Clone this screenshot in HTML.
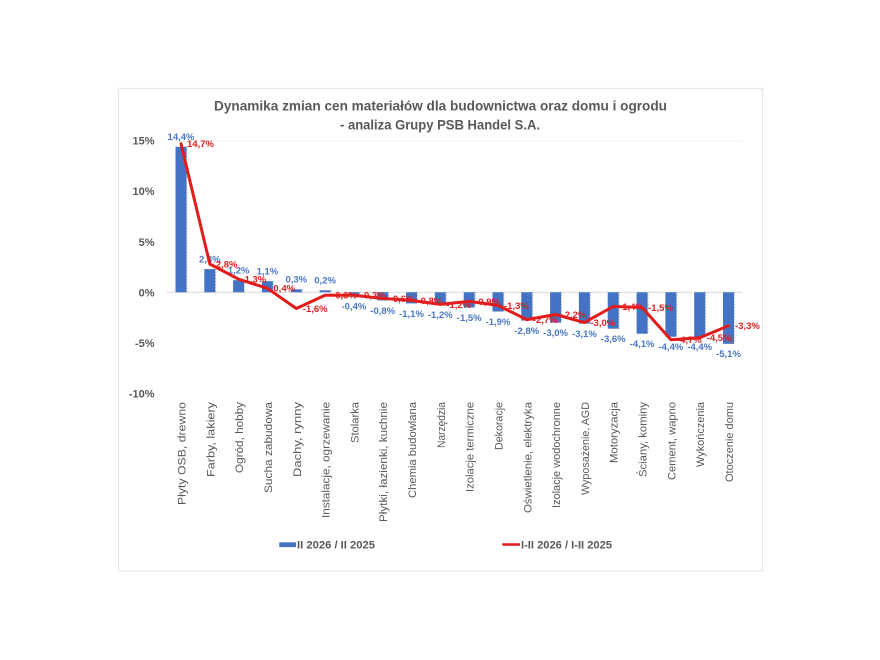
<!DOCTYPE html>
<html><head><meta charset="utf-8"><style>
html,body{margin:0;padding:0;background:#fff;}
svg{display:block;}
text{font-family:"Liberation Sans",Arial,sans-serif;}
</style></head><body>
<svg width="880" height="660" viewBox="0 0 880 660" xmlns="http://www.w3.org/2000/svg">
<rect x="0" y="0" width="880" height="660" fill="#fff"/>
<rect x="118.5" y="88.5" width="644" height="482.5" fill="#fff" stroke="#e8e8e8" stroke-width="1.2"/>
<!-- title -->
<g fill="#595959" font-weight="bold" font-size="14" text-anchor="middle">
<text x="440.5" y="110.5" textLength="453" lengthAdjust="spacingAndGlyphs">Dynamika zmian cen materiałów dla budownictwa oraz domu i ogrodu</text>
<text x="440" y="129.5" textLength="200" lengthAdjust="spacingAndGlyphs">- analiza Grupy PSB Handel S.A.</text>
</g>
<!-- gridlines -->
<line x1="167" y1="140.7" x2="742" y2="140.7" stroke="#f2f2f2" stroke-width="1"/>
<line x1="167" y1="292.3" x2="742" y2="292.3" stroke="#d9d9d9" stroke-width="1"/>
<!-- y ticks -->
<g fill="#595959" font-weight="bold" font-size="11" text-anchor="end">
<text x="154.5" y="144.7">15%</text>
<text x="154.5" y="195.2">10%</text>
<text x="154.5" y="246">5%</text>
<text x="154.5" y="296.3">0%</text>
<text x="154.5" y="347">-5%</text>
<text x="154.5" y="397.4">-10%</text>
</g>
<!-- bars -->
<g fill="#4472c4">
<rect x="175.5" y="146.8" width="11" height="145.5"/>
<rect x="204.3" y="269.1" width="11" height="23.2"/>
<rect x="233.1" y="280.2" width="11" height="12.1"/>
<rect x="261.9" y="281.2" width="11" height="11.1"/>
<rect x="290.8" y="289.3" width="11" height="3"/>
<rect x="319.6" y="290.3" width="11" height="2"/>
<rect x="348.4" y="292.3" width="11" height="4"/>
<rect x="377.2" y="292.3" width="11" height="8.1"/>
<rect x="406" y="292.3" width="11" height="11.1"/>
<rect x="434.8" y="292.3" width="11" height="12.1"/>
<rect x="463.7" y="292.3" width="11" height="15.2"/>
<rect x="492.5" y="292.3" width="11" height="19.2"/>
<rect x="521.3" y="292.3" width="11" height="28.3"/>
<rect x="550.1" y="292.3" width="11" height="30.3"/>
<rect x="578.9" y="292.3" width="11" height="31.3"/>
<rect x="607.7" y="292.3" width="11" height="36.4"/>
<rect x="636.6" y="292.3" width="11" height="41.4"/>
<rect x="665.4" y="292.3" width="11" height="44.5"/>
<rect x="694.2" y="292.3" width="11" height="44.5"/>
<rect x="723" y="292.3" width="11" height="51.5"/>
</g>
<!-- dotted bar edges -->
<g stroke="#555" stroke-width="0.8" stroke-dasharray="1 2" opacity="0.6">
<line x1="187" y1="146.8" x2="187" y2="294"/>
<line x1="215.8" y1="269.1" x2="215.8" y2="294"/>
<line x1="244.6" y1="280.2" x2="244.6" y2="294"/>
<line x1="273.4" y1="281.2" x2="273.4" y2="294"/>
<line x1="302.3" y1="289.3" x2="302.3" y2="294"/>
<line x1="331.1" y1="290.3" x2="331.1" y2="294"/>
<line x1="359.9" y1="292.3" x2="359.9" y2="296.3"/>
<line x1="388.7" y1="292.3" x2="388.7" y2="300.4"/>
<line x1="417.5" y1="292.3" x2="417.5" y2="303.4"/>
<line x1="446.3" y1="292.3" x2="446.3" y2="304.4"/>
<line x1="475.2" y1="292.3" x2="475.2" y2="307.5"/>
<line x1="504" y1="292.3" x2="504" y2="311.5"/>
<line x1="532.8" y1="292.3" x2="532.8" y2="320.6"/>
<line x1="561.6" y1="292.3" x2="561.6" y2="322.6"/>
<line x1="590.4" y1="292.3" x2="590.4" y2="323.6"/>
<line x1="619.2" y1="292.3" x2="619.2" y2="328.7"/>
<line x1="648.1" y1="292.3" x2="648.1" y2="333.7"/>
<line x1="676.9" y1="292.3" x2="676.9" y2="336.8"/>
<line x1="705.7" y1="292.3" x2="705.7" y2="336.8"/>
<line x1="734.5" y1="292.3" x2="734.5" y2="343.8"/>
</g>
<!-- blue labels -->
<g fill="#4a76c6" font-weight="bold" font-size="9.5" text-anchor="middle">
<text x="181" y="140.2">14,4%</text>
<text x="209.8" y="262.5">2,3%</text>
<text x="238.6" y="273.6">1,2%</text>
<text x="267.4" y="274.6">1,1%</text>
<text x="296.3" y="282.7">0,3%</text>
<text x="325.1" y="283.7">0,2%</text>
<text x="353.9" y="309.7">-0,4%</text>
<text x="382.7" y="313.8">-0,8%</text>
<text x="411.5" y="316.8">-1,1%</text>
<text x="440.3" y="317.8">-1,2%</text>
<text x="469.2" y="320.9">-1,5%</text>
<text x="498" y="324.9">-1,9%</text>
<text x="526.8" y="334">-2,8%</text>
<text x="555.6" y="336">-3,0%</text>
<text x="584.4" y="337">-3,1%</text>
<text x="613.2" y="342.1">-3,6%</text>
<text x="642.1" y="347.1">-4,1%</text>
<text x="670.9" y="350.2">-4,4%</text>
<text x="699.7" y="350.2">-4,4%</text>
<text x="728.5" y="357.2">-5,1%</text>
</g>
<!-- line -->
<polyline fill="none" stroke="#e31b1b" stroke-width="3" stroke-linejoin="round" stroke-linecap="round"
points="181,143.7 209.8,264 238.6,279.2 267.4,288.3 296.3,308.5 325.1,295.3 353.9,295.3 382.7,298.4 411.5,300.4 440.3,304.4 469.2,301.4 498,305.4 526.8,319.6 555.6,314.5 584.4,322.6 613.2,306.5 642.1,307.5 670.9,339.8 699.7,337.8 728.5,325.7"/>
<!-- red labels -->
<g fill="#e02020" font-weight="bold" font-size="9.5">
<text x="187" y="147.1">14,7%</text>
<text x="215.8" y="267.4">2,8%</text>
<text x="244.6" y="282.6">1,3%</text>
<text x="273.4" y="291.7">0,4%</text>
<text x="302.8" y="311.9">-1,6%</text>
<text x="332.1" y="298.7">-0,3%</text>
<text x="360.9" y="298.7">-0,3%</text>
<text x="389.7" y="301.8">-0,6%</text>
<text x="417.5" y="303.8">-0,8%</text>
<text x="446.3" y="307.8">-1,2%</text>
<text x="475.2" y="304.8">-0,9%</text>
<text x="504" y="308.8">-1,3%</text>
<text x="532.8" y="323">-2,7%</text>
<text x="561.6" y="317.9">-2,2%</text>
<text x="590.4" y="326">-3,0%</text>
<text x="619.2" y="309.9">-1,4%</text>
<text x="648.1" y="310.9">-1,5%</text>
<text x="676.9" y="343.2">-4,7%</text>
<text x="706.7" y="341.2">-4,5%</text>
<text x="735" y="329.1">-3,3%</text>
</g>
<!-- x labels -->
<g fill="#595959" font-size="11" text-anchor="end">
<text transform="translate(185.5,402) rotate(-90)" textLength="103" lengthAdjust="spacingAndGlyphs">Płyty OSB, drewno</text>
<text transform="translate(214.3,402) rotate(-90)" textLength="75" lengthAdjust="spacingAndGlyphs">Farby, lakiery</text>
<text transform="translate(243.1,402) rotate(-90)" textLength="71" lengthAdjust="spacingAndGlyphs">Ogród, hobby</text>
<text transform="translate(271.9,402) rotate(-90)" textLength="91" lengthAdjust="spacingAndGlyphs">Sucha zabudowa</text>
<text transform="translate(300.8,402) rotate(-90)" textLength="75" lengthAdjust="spacingAndGlyphs">Dachy, rynny</text>
<text transform="translate(329.6,402) rotate(-90)" textLength="116" lengthAdjust="spacingAndGlyphs">Instalacje, ogrzewanie</text>
<text transform="translate(358.4,402) rotate(-90)" textLength="41" lengthAdjust="spacingAndGlyphs">Stolarka</text>
<text transform="translate(387.2,402) rotate(-90)" textLength="120" lengthAdjust="spacingAndGlyphs">Płytki, łazienki, kuchnie</text>
<text transform="translate(416,402) rotate(-90)" textLength="96" lengthAdjust="spacingAndGlyphs">Chemia budowlana</text>
<text transform="translate(444.8,402) rotate(-90)" textLength="46" lengthAdjust="spacingAndGlyphs">Narzędzia</text>
<text transform="translate(473.7,402) rotate(-90)" textLength="90" lengthAdjust="spacingAndGlyphs">Izolacje termiczne</text>
<text transform="translate(502.5,402) rotate(-90)" textLength="48" lengthAdjust="spacingAndGlyphs">Dekoracje</text>
<text transform="translate(531.3,402) rotate(-90)" textLength="111" lengthAdjust="spacingAndGlyphs">Oświetlenie, elektryka</text>
<text transform="translate(560.1,402) rotate(-90)" textLength="106" lengthAdjust="spacingAndGlyphs">Izolacje wodochronne</text>
<text transform="translate(588.9,402) rotate(-90)" textLength="93" lengthAdjust="spacingAndGlyphs">Wyposażenie, AGD</text>
<text transform="translate(617.7,402) rotate(-90)" textLength="61" lengthAdjust="spacingAndGlyphs">Motoryzacja</text>
<text transform="translate(646.6,402) rotate(-90)" textLength="75" lengthAdjust="spacingAndGlyphs">Ściany, kominy</text>
<text transform="translate(675.4,402) rotate(-90)" textLength="78" lengthAdjust="spacingAndGlyphs">Cement, wapno</text>
<text transform="translate(704.2,402) rotate(-90)" textLength="65" lengthAdjust="spacingAndGlyphs">Wykończenia</text>
<text transform="translate(733,402) rotate(-90)" textLength="80" lengthAdjust="spacingAndGlyphs">Otoczenie domu</text>
</g>
<!-- legend -->
<rect x="279.3" y="542.3" width="16.7" height="4.8" fill="#4472c4"/>
<line x1="502.3" y1="544.5" x2="520" y2="544.5" stroke="#e31b1b" stroke-width="2.5"/>
<g fill="#595959" font-weight="bold" font-size="11">
<text x="297" y="548.3" textLength="78" lengthAdjust="spacingAndGlyphs">II 2026 / II 2025</text>
<text x="521" y="548.3" textLength="91" lengthAdjust="spacingAndGlyphs">I-II 2026 / I-II 2025</text>
</g>
</svg>
</body></html>
